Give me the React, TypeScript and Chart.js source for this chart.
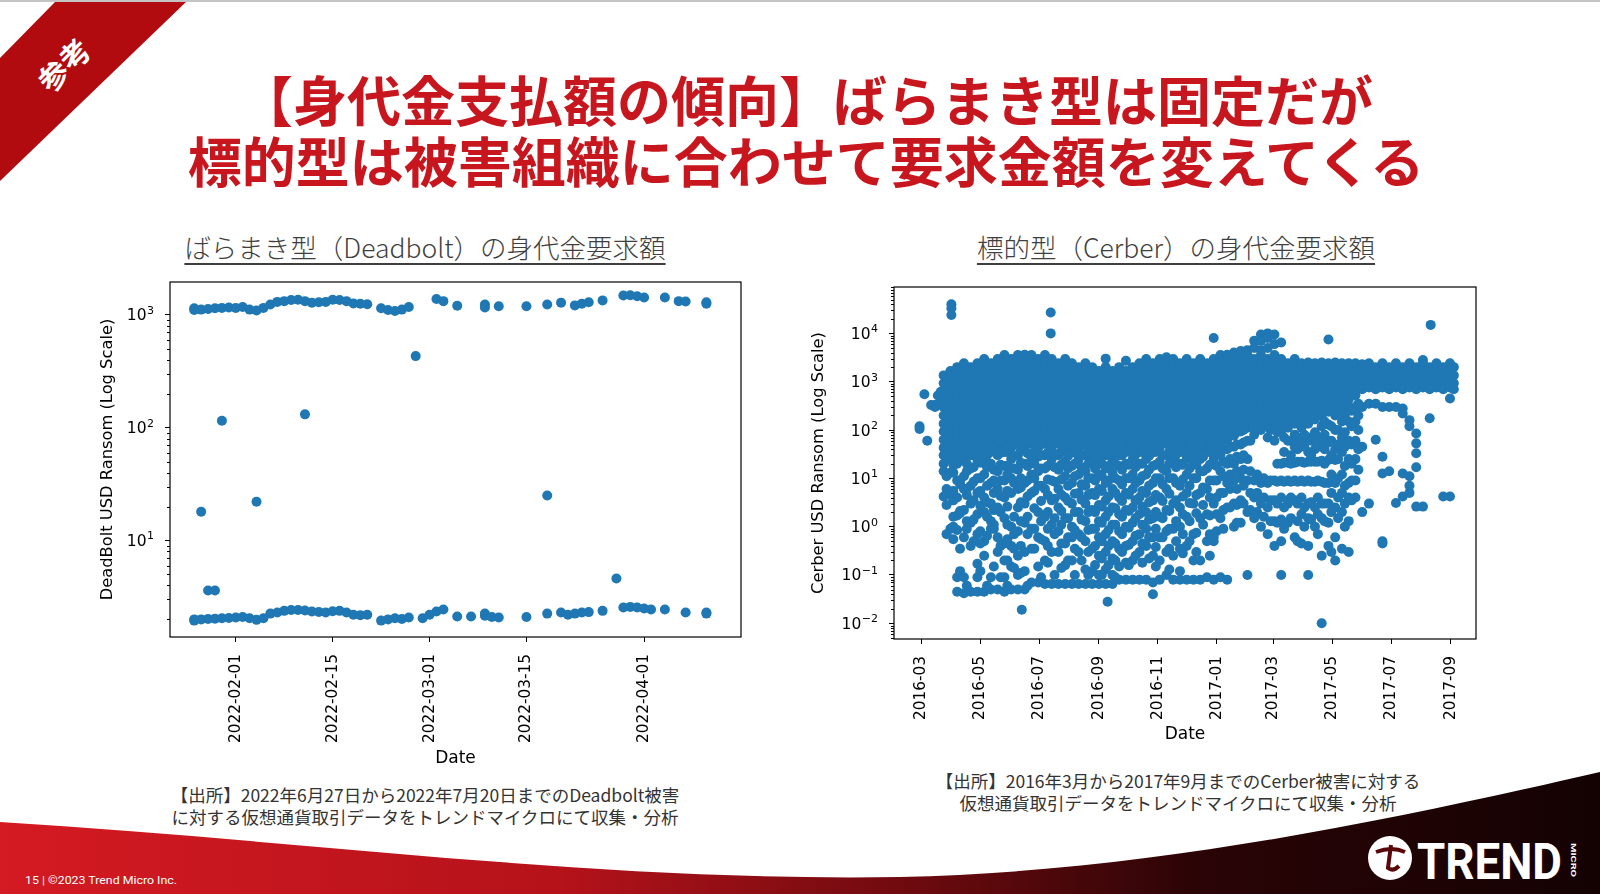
import React, { useEffect, useRef } from 'react';
import { Chart, registerables, type ChartConfiguration, type Plugin } from 'chart.js';

Chart.register(...registerables);

Chart.defaults.font.family = 'DejaVu Sans';
Chart.defaults.color = '#000';

const BLUE = '#1f77b4';

// ---- Deadbolt (spray-and-pray): two fixed price bands + a few one-offs ----
const deadboltHigh: [string, number][] = [
  ['2022-01-26', 1100], ['2022-01-26', 1140], ['2022-01-27', 1110], ['2022-01-28', 1125],
  ['2022-01-29', 1140], ['2022-01-30', 1150], ['2022-01-31', 1160], ['2022-02-01', 1150],
  ['2022-02-02', 1170], ['2022-02-03', 1110], ['2022-02-04', 1090], ['2022-02-05', 1150],
  ['2022-02-06', 1230], ['2022-02-07', 1300], ['2022-02-08', 1320], ['2022-02-09', 1350],
  ['2022-02-10', 1360], ['2022-02-11', 1320], ['2022-02-12', 1280], ['2022-02-13', 1290],
  ['2022-02-14', 1300], ['2022-02-15', 1360], ['2022-02-16', 1350], ['2022-02-17', 1320],
  ['2022-02-18', 1260], ['2022-02-19', 1250], ['2022-02-20', 1240], ['2022-02-22', 1140],
  ['2022-02-23', 1100], ['2022-02-24', 1080], ['2022-02-25', 1110], ['2022-02-26', 1170],
  ['2022-03-02', 1380], ['2022-03-03', 1320], ['2022-03-05', 1200], ['2022-03-09', 1230],
  ['2022-03-09', 1160], ['2022-03-11', 1190], ['2022-03-15', 1190], ['2022-03-18', 1230],
  ['2022-03-20', 1280], ['2022-03-22', 1210], ['2022-03-23', 1250], ['2022-03-24', 1290],
  ['2022-03-26', 1340], ['2022-03-29', 1480], ['2022-03-30', 1490], ['2022-03-31', 1460],
  ['2022-04-01', 1420], ['2022-04-04', 1420], ['2022-04-06', 1320], ['2022-04-07', 1310],
  ['2022-04-10', 1290], ['2022-04-10', 1250],
];

const deadboltLow: [string, number][] = [
  ['2022-01-26', 1.95], ['2022-01-26', 2.0], ['2022-01-27', 2.0], ['2022-01-28', 2.02],
  ['2022-01-29', 2.03], ['2022-01-30', 2.05], ['2022-01-31', 2.06], ['2022-02-01', 2.08],
  ['2022-02-02', 2.1], ['2022-02-03', 2.05], ['2022-02-04', 1.98], ['2022-02-05', 2.05],
  ['2022-02-06', 2.25], ['2022-02-07', 2.3], ['2022-02-08', 2.38], ['2022-02-09', 2.42],
  ['2022-02-10', 2.42], ['2022-02-11', 2.4], ['2022-02-12', 2.35], ['2022-02-13', 2.33],
  ['2022-02-14', 2.3], ['2022-02-15', 2.36], ['2022-02-16', 2.38], ['2022-02-17', 2.3],
  ['2022-02-18', 2.2], ['2022-02-19', 2.18], ['2022-02-20', 2.2], ['2022-02-22', 1.95],
  ['2022-02-23', 2.0], ['2022-02-24', 2.05], ['2022-02-25', 2.02], ['2022-02-26', 2.08],
  ['2022-02-28', 2.05], ['2022-03-01', 2.2], ['2022-03-02', 2.35], ['2022-03-03', 2.45],
  ['2022-03-05', 2.12], ['2022-03-07', 2.12], ['2022-03-09', 2.15], ['2022-03-09', 2.25],
  ['2022-03-10', 2.1], ['2022-03-11', 2.08], ['2022-03-15', 2.1], ['2022-03-18', 2.25],
  ['2022-03-20', 2.3], ['2022-03-21', 2.2], ['2022-03-22', 2.25], ['2022-03-23', 2.3],
  ['2022-03-24', 2.32], ['2022-03-26', 2.38], ['2022-03-29', 2.55], ['2022-03-30', 2.58],
  ['2022-03-31', 2.55], ['2022-04-01', 2.5], ['2022-04-02', 2.45], ['2022-04-04', 2.45],
  ['2022-04-07', 2.3], ['2022-04-10', 2.25], ['2022-04-10', 2.3],
];

const deadboltOther: [string, number][] = [
  ['2022-01-27', 18], ['2022-01-28', 3.6], ['2022-01-29', 3.6], ['2022-01-30', 115],
  ['2022-02-04', 22], ['2022-02-11', 131], ['2022-02-27', 430], ['2022-03-18', 25],
  ['2022-03-28', 4.6],
];

const deadboltTicks = ['2022-02-01', '2022-02-15', '2022-03-01', '2022-03-15', '2022-04-01'];

// ---- Cerber (targeted): one column of requests per week ----
const cerber2016: [string, number[]][] = [
  ['2016-02-28', [105, 120]],
  ['2016-03-04', [550]],
  ['2016-03-07', [60]],
  ['2016-03-11', [330]],
  ['2016-03-15', [330, 300]],
  ['2016-03-18', [340, 520]],
  ['2016-03-21', [330, 620]],
  ['2016-03-24', [1350, 930, 630, 430, 330, 295, 200, 135, 93, 63, 43, 30, 20, 14, 4.2]],
  ['2016-03-31', [1660, 1120, 760, 525, 355, 240, 166, 112, 76, 52, 35, 24, 13, 4.5, 0.9]],
  ['2016-04-07', [2000, 1350, 930, 630, 430, 295, 200, 135, 93, 63, 43, 30, 20, 9, 4, 1.7, 0.85, 0.09, 0.045]],
  ['2016-04-14', [2400, 1660, 1120, 760, 525, 355, 240, 166, 112, 76, 52, 35, 24, 11, 6, 2.2, 0.6, 0.09, 0.042]],
  ['2016-04-21', [2000, 1350, 930, 630, 430, 295, 200, 135, 93, 63, 43, 30, 16, 7, 3, 1.2, 0.4, 0.045]],
  ['2016-04-28', [2400, 1660, 1120, 760, 525, 355, 240, 166, 112, 76, 52, 35, 24, 10, 5, 1.8, 0.7, 0.17, 0.09, 0.045]],
  ['2016-05-05', [2950, 2000, 1350, 930, 630, 430, 295, 200, 135, 93, 63, 43, 25, 12, 4, 2, 0.5, 0.25, 0.045]],
  ['2016-05-12', [2400, 1660, 1120, 760, 525, 355, 240, 166, 112, 76, 52, 35, 20, 8, 3, 1.3, 0.9, 0.09, 0.05]],
  ['2016-05-19', [2950, 2000, 1350, 930, 630, 430, 295, 200, 135, 93, 63, 43, 30, 14, 6, 2.5, 0.6, 0.3, 0.05]],
  ['2016-05-26', [3550, 2400, 1660, 1120, 760, 525, 355, 240, 166, 112, 76, 52, 35, 18, 9, 4, 1.5, 0.45, 0.2, 0.09, 0.045]],
  ['2016-06-02', [2950, 2000, 1350, 930, 630, 430, 295, 200, 135, 93, 63, 43, 25, 10, 5, 1, 0.4, 0.15, 0.05]],
  ['2016-06-09', [3550, 2400, 1660, 1120, 760, 525, 355, 240, 166, 112, 76, 52, 30, 15, 6, 2.5, 0.8, 0.25, 0.1, 0.05]],
  ['2016-06-16', [3600, 2950, 2000, 1350, 930, 630, 430, 295, 200, 135, 93, 63, 43, 20, 8, 3, 1.2, 0.3, 0.12, 0.05]],
  ['2016-06-23', [3550, 2400, 1660, 1120, 760, 525, 355, 240, 166, 112, 76, 52, 24, 12, 5, 0.9, 0.35, 0.07]],
  ['2016-06-30', [2950, 2000, 1350, 930, 630, 430, 295, 200, 135, 93, 63, 43, 28, 14, 7, 2, 0.6, 0.15, 0.07]],
  ['2016-07-07', [3550, 2400, 1660, 1120, 760, 525, 355, 240, 166, 112, 76, 52, 30, 16, 6, 1.6, 0.5, 0.2, 0.065]],
  ['2016-07-14', [2950, 2000, 1350, 930, 630, 430, 295, 200, 135, 93, 63, 43, 25, 9, 3.5, 1.1, 0.3, 0.065]],
  ['2016-07-21', [2400, 1660, 1120, 760, 525, 355, 240, 166, 112, 76, 52, 30, 15, 6, 2.5, 0.8, 0.3, 0.065]],
  ['2016-07-28', [2950, 2000, 1350, 930, 630, 430, 295, 200, 135, 93, 63, 43, 22, 11, 4, 1.5, 0.45, 0.16, 0.065]],
  ['2016-08-04', [2400, 1660, 1120, 760, 525, 355, 240, 166, 112, 76, 52, 35, 18, 8, 3, 1, 0.6, 0.2, 0.065]],
  ['2016-08-11', [2000, 1350, 930, 630, 430, 295, 200, 135, 93, 63, 43, 25, 12, 5, 2, 0.7, 0.3, 0.065]],
  ['2016-08-18', [2400, 1660, 1120, 760, 525, 355, 240, 166, 112, 76, 52, 30, 14, 7, 3, 1.3, 0.5, 0.13, 0.065]],
  ['2016-08-25', [2000, 1350, 930, 630, 430, 295, 200, 135, 93, 63, 43, 30, 20, 10, 5, 2.2, 0.9, 0.35, 0.12, 0.065]],
  ['2016-09-01', [1660, 1120, 760, 525, 355, 240, 166, 112, 76, 52, 35, 24, 12, 6, 2.8, 1.3, 0.6, 0.25, 0.1, 0.065]],
  ['2016-09-08', [3000, 2000, 1350, 930, 630, 430, 295, 200, 135, 93, 63, 43, 30, 16, 8, 3.5, 1.6, 0.7, 0.3, 0.13, 0.065]],
  ['2016-09-15', [1660, 1120, 760, 525, 355, 240, 166, 112, 76, 52, 35, 24, 13, 6, 2.5, 1.1, 0.5, 0.22, 0.1, 0.065]],
  ['2016-09-22', [2000, 1350, 930, 630, 430, 295, 200, 135, 93, 63, 43, 30, 18, 9, 4, 1.8, 0.8, 0.35, 0.15, 0.08]],
  ['2016-09-29', [2700, 1660, 1120, 760, 525, 355, 240, 166, 112, 76, 52, 35, 20, 10, 5, 2.2, 1, 0.4, 0.18, 0.08]],
  ['2016-10-06', [2000, 1350, 930, 630, 430, 295, 200, 135, 93, 63, 43, 25, 12, 6, 2.5, 1.2, 0.5, 0.2, 0.08]],
  ['2016-10-13', [2400, 1660, 1120, 760, 525, 355, 240, 166, 112, 76, 52, 35, 20, 9, 4, 1.8, 0.7, 0.3, 0.08]],
  ['2016-10-20', [2950, 2000, 1350, 930, 630, 430, 295, 200, 135, 93, 63, 43, 25, 12, 5, 2, 0.9, 0.4, 0.08]],
  ['2016-10-27', [2400, 1660, 1120, 760, 525, 355, 240, 166, 112, 76, 52, 35, 18, 8, 3.5, 1.5, 0.6, 0.25, 0.07, 0.04]],
  ['2016-11-03', [2950, 2000, 1350, 930, 630, 430, 295, 200, 135, 93, 63, 43, 22, 10, 4, 1.6, 0.6, 0.2, 0.08]],
  ['2016-11-10', [3200, 2400, 1660, 1120, 760, 525, 355, 240, 166, 112, 76, 52, 30, 14, 6, 2.2, 0.8, 0.3, 0.1]],
  ['2016-11-17', [2950, 2000, 1350, 930, 630, 430, 295, 200, 135, 93, 63, 43, 25, 10, 3, 0.9, 0.25, 0.08]],
  ['2016-11-24', [2400, 1660, 1120, 760, 525, 355, 240, 166, 112, 76, 52, 35, 20, 7, 2.5, 1, 0.35, 0.12, 0.08]],
  ['2016-12-01', [2950, 2000, 1350, 930, 630, 430, 295, 200, 135, 93, 63, 43, 25, 12, 5, 1.6, 0.4, 0.08]],
  ['2016-12-08', [2400, 1660, 1120, 760, 525, 355, 240, 166, 112, 76, 52, 35, 22, 10, 3, 0.7, 0.2, 0.08]],
  ['2016-12-15', [2950, 2000, 1350, 930, 630, 430, 295, 200, 135, 93, 63, 43, 25, 14, 5, 1.5, 0.2, 0.08]],
  ['2016-12-22', [2400, 1660, 1120, 760, 525, 355, 240, 166, 112, 76, 52, 35, 16, 6, 1.8, 0.5, 0.09]],
  ['2016-12-29', [8000, 2950, 2000, 1350, 930, 630, 430, 295, 200, 135, 93, 63, 43, 25, 9, 3, 0.6, 0.5, 0.08]],
];

// mid-week requests that fill the lower part of the 2016 cloud
const cerberMid2016: [string, number[]][] = [
  ['2016-03-27', [55, 33, 11, 6, 2.8, 0.7]],
  ['2016-04-03', [40, 19, 13, 5.5, 3.5, 1.6, 1.0, 0.55]],
  ['2016-04-10', [48, 26, 9, 7.5, 2.1, 1.9, 0.35, 0.12]],
  ['2016-04-17', [36, 20, 14, 4.5, 6, 1.3, 0.9, 0.06]],
  ['2016-04-24', [60, 30, 17, 8.5, 3.5, 1.4, 0.5]],
  ['2016-05-01', [33, 21, 10, 5.5, 2.7, 0.8, 0.45, 0.12]],
  ['2016-05-08', [55, 30, 17, 7, 3.2, 1.6, 0.65, 0.06]],
  ['2016-05-15', [40, 15, 9, 5, 2.2, 0.9, 1.1, 0.15]],
  ['2016-05-22', [58, 34, 19, 9, 4.3, 2, 0.4, 0.09]],
  ['2016-05-29', [35, 18, 12, 5.5, 2.6, 1.1, 0.55, 0.2, 0.06]],
  ['2016-06-05', [52, 29, 16, 8, 1.6, 0.7, 0.35, 0.14]],
  ['2016-06-12', [38, 21, 10, 6.5, 3.2, 1.3, 0.4, 0.11]],
  ['2016-06-19', [60, 33, 18, 9, 4.2, 1.6, 0.7, 0.06]],
  ['2016-06-26', [36, 20, 10, 5.5, 2.4, 0.9, 0.35]],
  ['2016-07-03', [50, 30, 16, 7, 3.4, 1.3, 0.55, 0.09]],
  ['2016-07-10', [34, 18, 9.5, 4.5, 2, 0.9, 0.4, 0.18]],
  ['2016-07-17', [55, 32, 17, 8.5, 3.8, 1.5, 0.7, 0.1]],
  ['2016-07-24', [36, 19, 9.5, 4.6, 2.1, 1.1, 0.45, 0.14]],
  ['2016-07-31', [52, 29, 16, 7, 3.4, 1.5, 0.6, 0.2]],
  ['2016-08-07', [34, 20, 11, 4.8, 2, 0.85, 0.35, 0.1]],
  ['2016-08-14', [48, 30, 17, 7.5, 3.6, 1.4, 0.6, 0.2]],
  ['2016-08-21', [36, 20, 10, 4.5, 2, 0.85, 0.3, 0.1]],
  ['2016-08-28', [55, 31, 16, 9, 4.5, 2, 0.9, 0.4, 0.16]],
  ['2016-09-04', [35, 20, 11, 5.5, 2.6, 1.2, 0.5, 0.22, 0.1]],
  ['2016-09-11', [54, 31, 18, 9, 4.2, 2, 0.85, 0.4, 0.16]],
  ['2016-09-18', [34, 20, 10, 5, 2.4, 1.1, 0.45, 0.2, 0.09]],
  ['2016-09-25', [52, 30, 15, 7.5, 3.4, 1.6, 0.7, 0.3]],
  ['2016-10-02', [36, 19, 10, 4.6, 2.1, 0.95, 0.42, 0.16]],
  ['2016-10-09', [55, 31, 17, 8, 3.5, 1.5, 0.65, 0.25]],
  ['2016-10-16', [35, 20, 11, 5.5, 2.6, 1.1, 0.45, 0.18]],
  ['2016-10-23', [52, 29, 15, 7, 3.2, 1.4, 0.6, 0.22]],
  ['2016-10-30', [35, 19, 10, 4.5, 2, 0.9, 0.38, 0.15]],
  ['2016-11-06', [55, 30, 16, 7.5, 3.4, 1.5, 0.6]],
  ['2016-11-13', [36, 20, 10, 4.8, 2.1, 0.9, 0.35, 0.13]],
  ['2016-11-20', [54, 31, 17, 8, 3.5, 1.3, 0.5]],
  ['2016-11-27', [35, 19, 9.5, 4.2, 1.8, 0.7, 0.28]],
  ['2016-12-04', [52, 30, 16, 7, 3.1, 1.3, 0.5]],
  ['2016-12-11', [34, 19, 10, 4.5, 1.9, 0.75, 0.3]],
  ['2016-12-18', [52, 28, 14, 6.5, 2.8, 1.1]],
  ['2016-12-25', [35, 19, 9, 4, 1.7, 0.7, 0.25]],
];

const cerber2017: [string, number[]][] = [
  ['2017-01-05', [3550, 2400, 1660, 1120, 760, 525, 355, 240, 166, 112, 76, 52, 30, 14, 5, 1.5, 0.09]],
  ['2017-01-12', [3600, 2950, 2000, 1350, 930, 630, 430, 295, 200, 135, 93, 63, 40, 20, 8, 2.5, 0.08]],
  ['2017-01-19', [4000, 3550, 2400, 1660, 1120, 760, 525, 355, 240, 166, 112, 76, 45, 20, 9, 3, 1]],
  ['2017-01-26', [4300, 2950, 2000, 1350, 930, 630, 430, 295, 200, 135, 93, 50, 25, 10, 3.5, 1.2]],
  ['2017-02-02', [4500, 3550, 2400, 1660, 1120, 760, 525, 355, 240, 166, 112, 60, 25, 9, 2, 0.1]],
  ['2017-02-09', [7000, 5000, 2950, 2000, 1350, 930, 630, 430, 295, 200, 135, 80, 9, 4, 1.5]],
  ['2017-02-16', [9500, 7000, 4500, 3550, 2400, 1660, 1120, 760, 525, 355, 240, 166, 100, 8, 3, 1]],
  ['2017-02-23', [10000, 8000, 5000, 2950, 2000, 1350, 930, 630, 430, 295, 200, 135, 70, 8, 2.5, 0.7]],
  ['2017-03-02', [9500, 6000, 3550, 2400, 1660, 1120, 760, 525, 355, 240, 166, 112, 60, 9, 3.5, 1.3, 0.4]],
  ['2017-03-09', [6500, 2950, 2000, 1350, 930, 630, 430, 295, 200, 135, 93, 20, 9, 4, 1.4, 0.5, 0.1]],
  ['2017-03-16', [2400, 1660, 1120, 760, 525, 355, 240, 166, 112, 60, 21, 9, 3, 1.2]],
  ['2017-03-23', [2950, 2000, 1350, 930, 630, 430, 295, 200, 135, 80, 45, 21, 9, 3.5, 0.6]],
  ['2017-03-30', [2400, 1660, 1120, 760, 525, 355, 240, 166, 112, 55, 22, 9, 4, 1.8, 0.45]],
  ['2017-04-06', [2500, 2000, 1350, 930, 630, 430, 295, 200, 135, 70, 35, 22, 9, 3, 1.5, 0.4, 0.1]],
  ['2017-04-13', [2400, 1660, 1120, 760, 525, 355, 240, 166, 90, 40, 22, 8.5, 2.5, 1]],
  ['2017-04-20', [2500, 2000, 1350, 930, 630, 430, 295, 200, 120, 60, 23, 8.5, 3, 1.5, 0.25, 0.01]],
  ['2017-04-27', [7500, 2400, 1660, 1120, 760, 525, 355, 240, 130, 55, 24, 8, 3, 1.2, 0.4]],
  ['2017-05-04', [2500, 2000, 1350, 930, 630, 430, 295, 200, 100, 40, 24, 8, 2.5, 0.6, 0.2]],
  ['2017-05-11', [2400, 1660, 1120, 760, 525, 355, 240, 150, 70, 35, 12, 5, 2, 0.35]],
  ['2017-05-18', [2400, 2000, 1350, 930, 630, 430, 300, 150, 60, 25, 8, 4, 1.3, 0.3]],
  ['2017-05-25', [2400, 1660, 1120, 760, 525, 300, 150, 60, 25, 9, 4]],
  ['2017-06-01', [2300, 2000, 1350, 930, 700, 300, 45, 2]],
  ['2017-06-08', [2400, 1660, 1120, 760, 350, 3]],
  ['2017-06-15', [2000, 1350, 930, 700, 350, 63]],
  ['2017-06-22', [2400, 1660, 1120, 760, 300, 28, 12.6, 0.5, 0.45]],
  ['2017-06-29', [2000, 1350, 930, 700, 300, 14]],
  ['2017-07-06', [2400, 1660, 1120, 760, 300, 3.1]],
  ['2017-07-13', [2000, 1350, 930, 700, 280, 220, 12.6, 4.2]],
  ['2017-07-20', [2400, 1660, 1120, 760, 160, 120, 11, 7, 5]],
  ['2017-07-27', [2000, 1350, 930, 700, 85, 53, 33, 17, 2.6]],
  ['2017-08-03', [2800, 2400, 1660, 1120, 760, 2.6]],
  ['2017-08-10', [2000, 1350, 930, 700, 175]],
  ['2017-08-17', [2400, 1660, 1120, 760]],
  ['2017-08-24', [2000, 1350, 930, 700, 4.2]],
  ['2017-08-31', [2400, 1660, 1120, 760, 450, 4.2]],
  ['2017-09-04', [2000, 1350, 930, 700]],
];

const cerberMid2017: [string, number[]][] = [
  ['2017-01-01', [60, 35, 18, 9, 4, 1.8, 0.8]],
  ['2017-01-08', [70, 40, 22, 11, 5, 2.2, 0.9]],
  ['2017-01-15', [80, 45, 25, 12, 6, 2.5]],
  ['2017-01-22', [90, 50, 28, 14, 6, 2.8, 1.2]],
  ['2017-01-29', [100, 55, 30, 15, 7, 3]],
  ['2017-02-05', [120, 60, 14, 5, 2.2]],
  ['2017-02-12', [110, 12, 5, 2]],
  ['2017-02-19', [120, 10, 4, 1.6]],
  ['2017-02-26', [100, 9, 3.5, 1.3]],
  ['2017-03-05', [90, 20, 8.5, 3, 1.2]],
  ['2017-03-12', [70, 35, 21, 8.5, 2.5, 0.9]],
  ['2017-03-19', [60, 30, 20, 8.5, 4, 1.5]],
  ['2017-03-26', [70, 40, 22, 8.5, 3, 1.3, 0.5]],
  ['2017-04-02', [80, 45, 21, 8.5, 2.5, 1]],
  ['2017-04-09', [60, 30, 22, 8.5, 3.2, 1.4]],
  ['2017-04-16', [70, 45, 22, 9, 4, 1.8, 0.7]],
  ['2017-04-23', [150, 80, 40, 20, 8, 3, 1.3]],
  ['2017-04-30', [120, 60, 30, 12, 5, 2, 0.3]],
  ['2017-05-07', [100, 50, 25, 10, 4, 1.5]],
  ['2017-05-14', [200, 90, 45, 18, 7, 3, 1]],
  ['2017-05-21', [250, 120, 50, 20, 9, 3.5]],
  ['2017-05-28', [350, 200, 100, 40, 15]],
];

const cerberOutliers: [string, number][] = [
  ['2016-04-01', 40000], ['2016-04-01', 33000], ['2016-04-01', 24000],
  ['2016-06-13', 0.019], ['2016-07-13', 27000], ['2016-07-13', 10000],
  ['2016-09-10', 0.028], ['2017-08-11', 15000],
];

const cerberTicks = [
  '2016-03', '2016-05', '2016-07', '2016-09', '2016-11',
  '2017-01', '2017-03', '2017-05', '2017-07', '2017-09',
];

const toTime = (s: string) => {
  const [y, m, d] = s.split('-').map(Number);
  return Date.UTC(y, m - 1, d || 1);
};

// box around the plot, minor ticks and "10^n" labels on the log axis
const framePlugin: Plugin = {
  id: 'frame',
  afterDraw(chart) {
    const { ctx, chartArea: a } = chart;
    const y = chart.scales.y;
    ctx.save();
    ctx.strokeStyle = '#000';
    ctx.fillStyle = '#000';
    ctx.lineWidth = 1;
    const lo = Math.floor(Math.log10(y.min));
    const hi = Math.ceil(Math.log10(y.max));
    for (let e = lo; e <= hi; e++) {
      for (let k = 2; k <= 9; k++) {
        const v = k * Math.pow(10, e);
        if (v < y.min || v > y.max) continue;
        const py = Math.round(y.getPixelForValue(v)) + 0.5;
        ctx.beginPath();
        ctx.moveTo(a.left - 3, py);
        ctx.lineTo(a.left, py);
        ctx.stroke();
      }
    }
    for (const t of y.ticks) {
      const e = Math.round(Math.log10(t.value));
      const py = y.getPixelForValue(t.value);
      const sup = e < 0 ? '\u2212' + -e : String(e);
      ctx.font = '11px "DejaVu Sans"';
      const sw = ctx.measureText(sup).width;
      const right = a.left - 16;
      ctx.textAlign = 'left';
      ctx.fillText(sup, right - sw, py - 1);
      ctx.font = '15.5px "DejaVu Sans"';
      ctx.textAlign = 'right';
      ctx.fillText('10', right - sw - 0.5, py + 5.5);
    }
    ctx.lineWidth = 1.2;
    ctx.strokeRect(a.left, a.top, a.right - a.left, a.bottom - a.top);
    ctx.restore();
  },
};

interface PanelProps {
  points: { x: number; y: number }[];
  box: { left: number; top: number; width: number; height: number };
  xRange: [string, string];
  yRange: [number, number];
  xTicks: string[];
  yExps: number[];
  yTitle: string;
  yAxisWidth: number;
  xAxisHeight: number;
}

const ScatterPanel: React.FC<PanelProps> = ({ points, box, xRange, yRange, xTicks, yExps, yTitle, yAxisWidth, xAxisHeight }) => {
  const canvasRef = useRef<HTMLCanvasElement | null>(null);
  const chartRef = useRef<Chart | null>(null);

  useEffect(() => {
    if (!canvasRef.current) return;
    const config: ChartConfiguration<'scatter'> = {
      type: 'scatter',
      data: {
        datasets: [
          {
            data: points,
            backgroundColor: BLUE,
            borderWidth: 0,
            pointRadius: 5,
            pointHoverRadius: 5,
          },
        ],
      },
      options: {
        responsive: false,
        animation: false,
        events: [],
        layout: { padding: { top: 8, right: 9, left: 0, bottom: 0 } },
        plugins: { legend: { display: false }, tooltip: { enabled: false } },
        scales: {
          x: {
            type: 'linear',
            bounds: 'data',
            min: toTime(xRange[0]) + 12 * 3600e3,
            max: toTime(xRange[1]),
            afterBuildTicks: (scale) => {
              scale.ticks = xTicks.map((t) => ({ value: toTime(t) }));
            },
            afterFit: (scale) => {
              scale.height = xAxisHeight;
              scale.paddingLeft = 0;
              scale.paddingRight = 0;
            },
            ticks: {
              autoSkip: false,
              minRotation: 90,
              maxRotation: 90,
              padding: 12,
              font: { family: 'DejaVu Sans', size: 15.3 },
              color: '#000',
              callback: (_v, i) => xTicks[i],
            },
            grid: { display: true, drawOnChartArea: false, drawTicks: true, tickLength: 5, color: '#000', lineWidth: 1 },
            border: { display: false },
            title: { display: true, text: 'Date', font: { family: 'DejaVu Sans', size: 17 }, color: '#000', padding: 0 },
          },
          y: {
            type: 'logarithmic',
            bounds: 'data',
            min: yRange[0],
            max: yRange[1],
            afterBuildTicks: (scale) => {
              scale.ticks = yExps.map((e) => ({ value: Math.pow(10, e), major: true }));
            },
            afterFit: (scale) => {
              scale.width = yAxisWidth;
              scale.paddingTop = 0;
              scale.paddingBottom = 0;
            },
            ticks: { display: false },
            grid: { display: true, drawOnChartArea: false, drawTicks: true, tickLength: 5, color: '#000', lineWidth: 1 },
            border: { display: false },
            title: { display: true, text: yTitle, font: { family: 'DejaVu Sans', size: 16.3 }, color: '#000', padding: 0 },
          },
        },
      },
      plugins: [framePlugin],
    };
    chartRef.current = new Chart(canvasRef.current, config);
    return () => {
      chartRef.current?.destroy();
      chartRef.current = null;
    };
  }, [points, box, xRange, yRange, xTicks, yExps, yTitle, yAxisWidth, xAxisHeight]);

  return (
    <canvas
      ref={canvasRef}
      width={box.width}
      height={box.height}
      style={{ position: 'absolute', left: box.left, top: box.top, width: box.width, height: box.height }}
    />
  );
};

const deadboltPoints = [...deadboltHigh, ...deadboltLow, ...deadboltOther].map(([d, v]) => ({ x: toTime(d), y: v }));
const cerberPoints = [
  ...[...cerber2016, ...cerberMid2016, ...cerber2017, ...cerberMid2017].flatMap(([d, vals]) =>
    vals.map((v) => ({ x: toTime(d), y: v }))
  ),
  ...cerberOutliers.map(([d, v]) => ({ x: toTime(d), y: v })),
];

const DEADBOLT_BOX = { left: 98, top: 274, width: 652, height: 495 };
const CERBER_BOX = { left: 809, top: 279, width: 676, height: 466 };
const DEADBOLT_X: [string, string] = ['2022-01-22', '2022-04-15'];
const CERBER_X: [string, string] = ['2016-02-01', '2017-09-27'];
const DEADBOLT_Y: [number, number] = [1.396, 1950];
const CERBER_Y: [number, number] = [0.00473, 91200];
const DEADBOLT_EXPS = [1, 2, 3];
const CERBER_EXPS = [-2, -1, 0, 1, 2, 3, 4];

const JP = '"Noto Sans CJK JP", "Noto Sans", sans-serif';
const titleLine: React.CSSProperties = {
  position: 'absolute',
  left: 6,
  width: 1600,
  textAlign: 'center',
  color: '#c8161e',
  fontSize: 54,
  fontWeight: 700,
  lineHeight: '62px',
  whiteSpace: 'nowrap',
};
const subTitle: React.CSSProperties = {
  position: 'absolute',
  top: 231,
  width: 600,
  textAlign: 'center',
  color: '#3f3f3f',
  fontSize: 26.5,
  fontWeight: 300,
  lineHeight: '32px',
  textDecoration: 'underline',
  textUnderlineOffset: 5,
  whiteSpace: 'nowrap',
};
const caption: React.CSSProperties = {
  position: 'absolute',
  width: 600,
  textAlign: 'center',
  color: '#333',
  fontSize: 17.5,
  lineHeight: '22px',
  whiteSpace: 'nowrap',
};

export default function App() {
  return (
    <div
      style={{
        position: 'fixed',
        left: 0,
        top: 0,
        width: 1600,
        height: 894,
        background: '#fff',
        overflow: 'hidden',
        fontFamily: JP,
      }}
    >
      <div style={{ position: 'absolute', left: 0, top: 0, width: 1600, height: 2, background: '#c4c4c4' }} />

      <svg width={1600} height={894} style={{ position: 'absolute', left: 0, top: 0 }}>
        <defs>
          <linearGradient id="foot" x1="0" y1="0" x2="1" y2="0">
            <stop offset="0" stopColor="#d41a22" />
            <stop offset="0.35" stopColor="#b5121a" />
            <stop offset="0.58" stopColor="#6a0a0e" />
            <stop offset="0.75" stopColor="#2a0406" />
            <stop offset="1" stopColor="#140203" />
          </linearGradient>
        </defs>
        <polygon points="55,2 186,2 0,181 0,58" fill="#b10b10" />
        <text
          x={63}
          y={64}
          transform="rotate(-45 63 64)"
          fill="#fff"
          fontSize={30}
          fontWeight={700}
          textAnchor="middle"
          dominantBaseline="central"
          fontFamily={JP}
        >
          参考
        </text>
        <path d="M0,822 C300,840 600,882 900,877 C1150,872 1400,818 1600,772 L1600,894 L0,894 Z" fill="url(#foot)" />
        <text x={25} y={884} fill="#fff" fontSize={11} fontFamily="Roboto" textLength={152} lengthAdjust="spacingAndGlyphs">
          15 | ©2023 Trend Micro Inc.
        </text>
        <circle cx={1390} cy={858} r={22} fill="#fff" />
        <path d="M1376,852 Q1392,846 1405,852" stroke="#5a0709" strokeWidth={4} fill="none" />
        <path d="M1391,845 L1388,868 Q1393,872 1399,866" stroke="#5a0709" strokeWidth={4} fill="none" />
        <text x={1417} y={879} fill="#fff" fontSize={50} fontWeight={700} fontFamily="Roboto" textLength={145} lengthAdjust="spacingAndGlyphs">
          TREND
        </text>
        <text
          x={1571}
          y={843}
          transform="rotate(90 1571 843)"
          fill="#fff"
          fontSize={8}
          fontWeight={700}
          fontFamily="Roboto"
          textLength={34}
          lengthAdjust="spacingAndGlyphs"
        >
          MICRO
        </text>
      </svg>

      <div style={{ ...titleLine, top: 68 }}>【身代金支払額の傾向】ばらまき型は固定だが</div>
      <div style={{ ...titleLine, top: 129 }}>標的型は被害組織に合わせて要求金額を変えてくる</div>

      <div style={{ ...subTitle, left: 125 }}>ばらまき型（Deadbolt）の身代金要求額</div>
      <div style={{ ...subTitle, left: 876 }}>標的型（Cerber）の身代金要求額</div>

      <ScatterPanel
        points={deadboltPoints}
        box={DEADBOLT_BOX}
        xRange={DEADBOLT_X}
        yRange={DEADBOLT_Y}
        xTicks={deadboltTicks}
        yExps={DEADBOLT_EXPS}
        yTitle="DeadBolt USD Ransom (Log Scale)"
        yAxisWidth={72}
        xAxisHeight={132}
      />
      <ScatterPanel
        points={cerberPoints}
        box={CERBER_BOX}
        xRange={CERBER_X}
        yRange={CERBER_Y}
        xTicks={cerberTicks}
        yExps={CERBER_EXPS}
        yTitle="Cerber USD Ransom (Log Scale)"
        yAxisWidth={85}
        xAxisHeight={106}
      />

      <div style={{ ...caption, left: 125, top: 784 }}>
        【出所】2022年6月27日から2022年7月20日までのDeadbolt被害
        <br />
        に対する仮想通貨取引データをトレンドマイクロにて収集・分析
      </div>
      <div style={{ ...caption, left: 878, top: 770 }}>
        【出所】2016年3月から2017年9月までのCerber被害に対する
        <br />
        仮想通貨取引データをトレンドマイクロにて収集・分析
      </div>
    </div>
  );
}
